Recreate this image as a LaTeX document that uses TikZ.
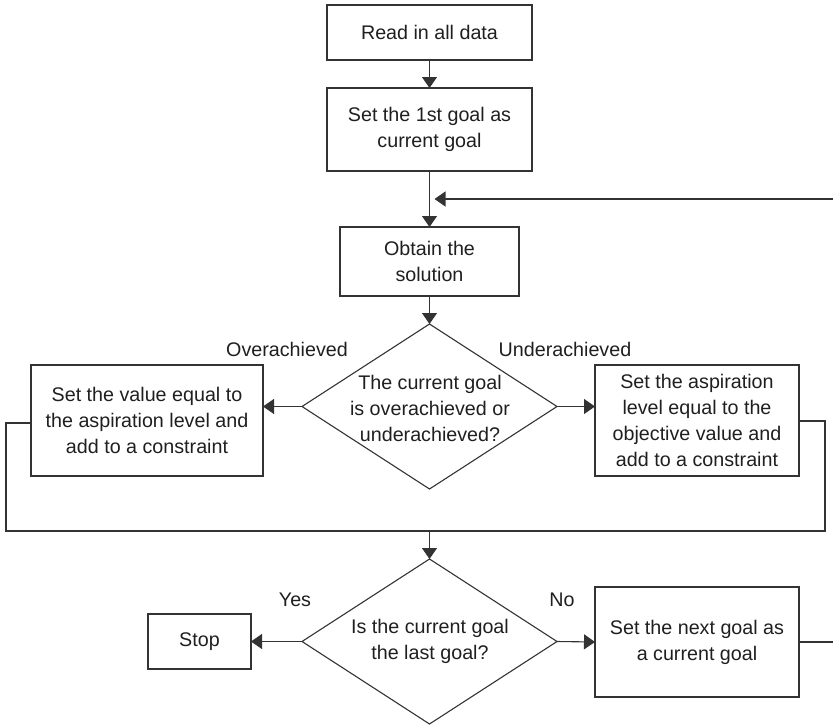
\documentclass[tikz,border=0pt]{standalone}
\usepackage{fontspec}
\setmainfont{Liberation Sans}
\usetikzlibrary{arrows.meta,shapes.geometric}
\begin{document}
\begin{tikzpicture}[x=1pt,y=-1pt,
  font=\fontsize{19.7}{25.8}\selectfont,
  every node/.style={text=black!88},
  flow/.style={draw=black!80,line width=1.1pt},
  arr/.style={flow,-{Triangle[length=11pt,width=15pt]}},
  procbox/.style={draw=black!80,line width=1.1pt,rectangle,align=center,inner sep=0pt,outer sep=0pt},
  decision/.style={draw=black!80,line width=1.1pt,diamond,minimum width=255pt,minimum height=165pt,inner sep=0pt,outer sep=0pt},
  dtext/.style={align=center,inner sep=0pt},
  lbl/.style={inner sep=0pt}]
\useasboundingbox (0,0) rectangle (833,726);
% boxes
\node[procbox,minimum width=205pt,minimum height=55pt] (read) at (429.5,32.5) {Read in all data};
\node[procbox,minimum width=205pt,minimum height=83pt] (first) at (429.5,129.5) {Set the 1st goal as\\current goal};
\node[procbox,minimum width=179pt,minimum height=69pt] (obtain) at (429.5,261.5) {Obtain the\\solution};
\node[decision] (d1) at (429.5,406.5) {};
\node[dtext] (d1t) at (430,408.5) {The current goal\\is overachieved or\\underachieved?};
\node[procbox,minimum width=232pt,minimum height=111pt] (over) at (147,420.5) {Set the value equal to\\the aspiration level and\\add to a constraint};
\node[procbox,minimum width=204pt,minimum height=111pt] (under) at (697,420.5) {Set the aspiration\\level equal to the\\objective value and\\add to a constraint};
\node[decision] (d2) at (429.5,641.5) {};
\node[dtext] (d2t) at (430,641) {Is the current goal\\the last goal?};
\node[procbox,minimum width=103pt,minimum height=55pt] (stop) at (199.5,641.5) {Stop};
\node[procbox,minimum width=204pt,minimum height=110pt] (next) at (697,642) {Set the next goal as\\a current goal};
% labels
\node[lbl] (lover) at (287,349) {Overachieved};
\node[lbl] (lunder) at (565,349) {Underachieved};
\node[lbl] (lyes) at (295,600) {Yes};
\node[lbl] (lno) at (562,600) {No};
% coordinates
\coordinate (fbR) at (833,199);
\coordinate (fbL) at (434.5,199);
\coordinate (bl) at (6,531);
\coordinate (bm) at (429.5,531);
\coordinate (br) at (825,531);
\coordinate (nr) at (833,642);
% connectors
\draw[arr] (read.south) -- (first.north);
\draw[arr] (first.south) -- (obtain.north);
\draw[arr] (fbR) -- (fbL);
\draw[arr] (obtain.south) -- (d1.north);
\draw[arr] (d1.west) -- (d1.west -| over.east);
\draw[arr] (d1.east) -- (d1.east -| under.west);
\draw[flow] ([yshift=-2.5pt]over.west) -- ([yshift=-2.5pt]over.west -| bl) -- (bl) -- (br) -- ([yshift=-0.5pt]under.east -| br) -- ([yshift=-0.5pt]under.east);
\draw[arr] (bm) -- (d2.north);
\draw[arr] (d2.west) -- (stop.east);
\draw[arr] (d2.east) -- (next.west);
\draw[flow] (next.east) -- (nr);
\end{tikzpicture}
\end{document}
